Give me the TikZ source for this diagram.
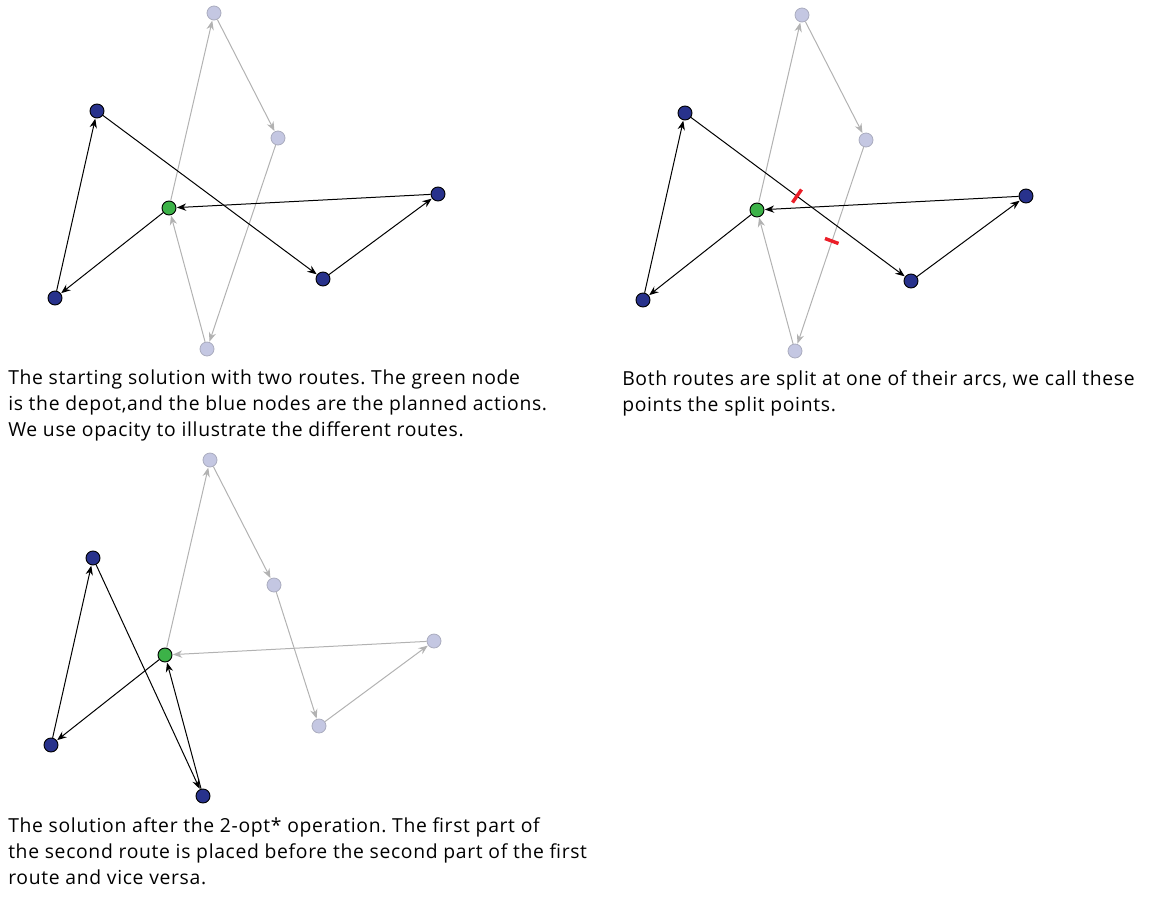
\documentclass[tikz,border=0pt]{standalone}
\usepackage{fontspec}
\setmainfont{Open Sans}[LetterSpace=3.5]
\usetikzlibrary{arrows.meta}
\definecolor{navy}{RGB}{40,50,140}
\definecolor{dgreen}{RGB}{60,178,72}
\definecolor{lav}{RGB}{196,199,226}
\definecolor{gline}{RGB}{178,178,178}
\definecolor{gborder}{RGB}{170,172,190}
\definecolor{redmark}{RGB}{235,30,40}
\tikzset{
  bnode/.style={circle,draw=black,fill=navy,line width=0.7pt,minimum size=10.5pt,inner sep=0pt},
  gnode/.style={circle,draw=black,fill=dgreen,line width=0.7pt,minimum size=10.5pt,inner sep=0pt},
  lnode/.style={circle,draw=gborder,fill=lav,line width=0.6pt,minimum size=10.5pt,inner sep=0pt},
  barc/.style={draw=black,line width=0.75pt,-{Stealth[length=7pt,width=5.5pt]},shorten >=0.3pt},
  larc/.style={draw=gline,line width=0.75pt,-{Stealth[length=7pt,width=5.5pt]},shorten >=0.3pt},
  split/.style={draw=redmark,line width=2.6pt},
  caption/.style={anchor=north west,align=left,inner sep=0pt,font=\frenchspacing\fontsize{14.5}{19.5}\selectfont}
}
\begin{document}
\begin{tikzpicture}[x=0.75pt,y=-0.75pt]
\useasboundingbox (0,0) rectangle (1150,897);
% ---------- Panel 1 ----------
\node[gnode] (d1) at (169,208) {};
\node[bnode] (a1) at (97,111) {};
\node[bnode] (b1) at (55,298) {};
\node[bnode] (c1) at (323,279) {};
\node[bnode] (e1) at (438,194) {};
\node[lnode] (t1) at (214,13) {};
\node[lnode] (r1) at (278,138) {};
\node[lnode] (u1) at (207,349) {};
\draw[larc] (d1) -- (t1);
\draw[larc] (t1) -- (r1);
\draw[larc] (r1) -- (u1);
\draw[larc] (u1) -- (d1);
\draw[barc] (d1) -- (b1);
\draw[barc] (b1) -- (a1);
\draw[barc] (a1) -- (c1);
\draw[barc] (c1) -- (e1);
\draw[barc] (e1) -- (d1);
\node[caption] (cap1) at (8,370) {The starting solution with two routes. The green node\\is the depot,and the blue nodes are the planned actions.\\We use opacity to illustrate the different routes.};
% ---------- Panel 2 ----------
\node[gnode] (d2) at (757,210) {};
\node[bnode] (a2) at (685,113) {};
\node[bnode] (b2) at (643,300) {};
\node[bnode] (c2) at (911,281) {};
\node[bnode] (e2) at (1026,196) {};
\node[lnode] (t2) at (802,15) {};
\node[lnode] (r2) at (866,140) {};
\node[lnode] (u2) at (795,351) {};
\draw[larc] (d2) -- (t2);
\draw[larc] (t2) -- (r2);
\draw[larc] (r2) -- (u2);
\draw[larc] (u2) -- (d2);
\draw[barc] (d2) -- (b2);
\draw[barc] (b2) -- (a2);
\draw[barc] (a2) -- (c2);
\draw[barc] (c2) -- (e2);
\draw[barc] (e2) -- (d2);
\coordinate (s1a) at (792.5,202.5);
\coordinate (s1b) at (801.5,189.5);
\coordinate (s2a) at (825,238.5);
\coordinate (s2b) at (838.5,243.5);
\draw[split] (s1a) -- (s1b);
\draw[split] (s2a) -- (s2b);
\node[caption] (cap2) at (622,370) {Both routes are split at one of their arcs, we call these\\points the split points.};
% ---------- Panel 3 ----------
\node[gnode] (d3) at (165,655) {};
\node[bnode] (a3) at (93,558) {};
\node[bnode] (b3) at (51,745) {};
\node[bnode] (u3) at (203,796) {};
\node[lnode] (c3) at (319,726) {};
\node[lnode] (e3) at (434,641) {};
\node[lnode] (t3) at (210,460) {};
\node[lnode] (r3) at (274,585) {};
\draw[larc] (d3) -- (t3);
\draw[larc] (t3) -- (r3);
\draw[larc] (r3) -- (c3);
\draw[larc] (c3) -- (e3);
\draw[larc] (e3) -- (d3);
\draw[barc] (d3) -- (b3);
\draw[barc] (b3) -- (a3);
\draw[barc] (a3) -- (u3);
\draw[barc] (u3) -- (d3);
\node[caption] (cap3) at (8,817) {The solution after the 2-opt* operation. The first part of\\the second route is placed before the second part of the first\\route and vice versa.};
\end{tikzpicture}
\end{document}
